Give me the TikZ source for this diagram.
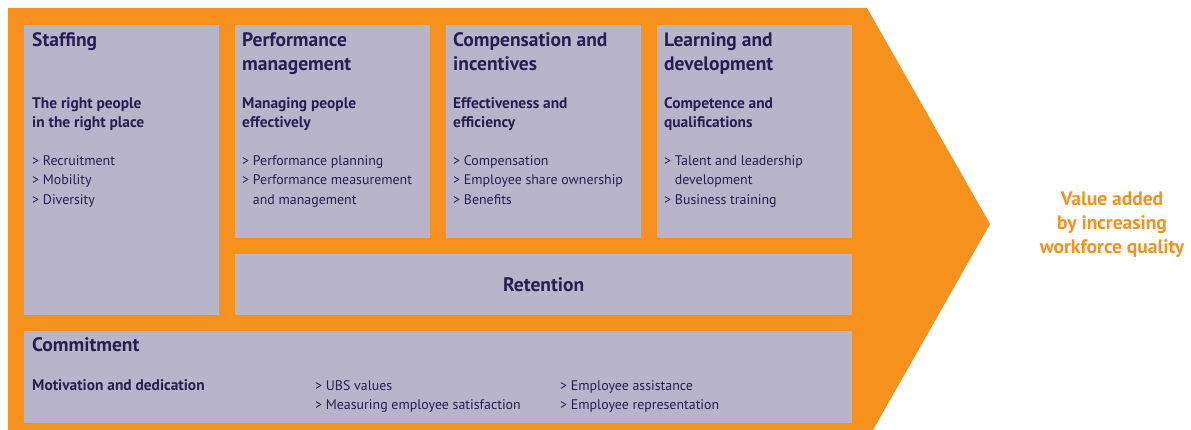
\documentclass[tikz,border=0pt]{standalone}
\usepackage{fontspec}
\setmainfont{PT Sans}
\definecolor{hrorange}{RGB}{246,145,30}
\definecolor{hrlav}{RGB}{184,181,203}
\definecolor{hrnavy}{RGB}{40,30,80}
\newcommand\ttlfont{\bfseries\fontsize{19.5}{24}\selectfont}
\newcommand\subfont{\bfseries\fontsize{15.4}{19.3}\selectfont}
\newcommand\itmfont{\fontsize{13.9}{19.6}\selectfont}
\newcommand\cont{\phantom{>}\ }
\tikzset{
  panel/.style={fill=hrlav, draw=none, inner sep=0, anchor=north west},
  ttl/.style={anchor=north west, inner sep=0, align=left, text=hrnavy, font=\ttlfont},
  sub/.style={anchor=north west, inner sep=0, align=left, text=hrnavy, font=\subfont},
  itm/.style={anchor=north west, inner sep=0, align=left, text=hrnavy, font=\itmfont},
  valuetext/.style={align=center, inner sep=0, text=hrorange, font=\ttlfont}
}
\begin{document}
\begin{tikzpicture}[x=1pt, y=-1pt]
\useasboundingbox (0,0) rectangle (1191,430);
% orange chevron behind the panels
\fill[hrorange] (8,8) -- (867,8) -- (990,224) -- (873,430) -- (8,430) -- cycle;

% panels
\node[panel, minimum width=195, minimum height=290] (staff) at (24,25) {};
\node[panel, minimum width=195, minimum height=213] (perf) at (235,25) {};
\node[panel, minimum width=195, minimum height=213] (comp) at (446,25) {};
\node[panel, minimum width=195, minimum height=213] (learn) at (657,25) {};
\node[panel, minimum width=617, minimum height=61] (ret) at (235,254) {};
\node[panel, minimum width=828, minimum height=92] (commit) at (24,331) {};

% Staffing
\node[ttl] (staffT) at (32,32) {Staffing};
\node[sub] (staffS) at (32,97) {The right people\\in the right place};
\node[itm] (staffI) at (32,155) {> Recruitment\\> Mobility\\> Diversity};

% Performance management
\node[ttl] (perfT) at (242,32) {Performance\\management};
\node[sub] (perfS) at (242,97) {Managing people\\effectively};
\node[itm] (perfI) at (242,155) {> Performance planning\\> Performance measurement\\\cont and management};

% Compensation and incentives
\node[ttl] (compT) at (453,32) {Compensation and\\incentives};
\node[sub] (compS) at (453,97) {Effectiveness and\\efficiency};
\node[itm] (compI) at (453,155) {> Compensation\\> Employee share ownership\\> Benefits};

% Learning and development
\node[ttl] (learnT) at (664,32) {Learning and\\development};
\node[sub] (learnS) at (664,97) {Competence and\\qualifications};
\node[itm] (learnI) at (664,155) {> Talent and leadership\\\cont development\\> Business training};

% Retention
\node[text=hrnavy, font=\ttlfont, inner sep=0] (retT) at (ret.center) {Retention};

% Commitment
\node[ttl] (commitT) at (32,337) {Commitment};
\node[sub] (commitS) at (32,379) {Motivation and dedication};
\node[itm] (commitA) at (315,380) {> UBS values\\> Measuring employee satisfaction};
\node[itm] (commitB) at (560,380) {> Employee assistance\\> Employee representation};

% outcome
\node[valuetext] (value) at (1112,225) {Value added\\by increasing\\workforce quality};
\end{tikzpicture}
\end{document}
